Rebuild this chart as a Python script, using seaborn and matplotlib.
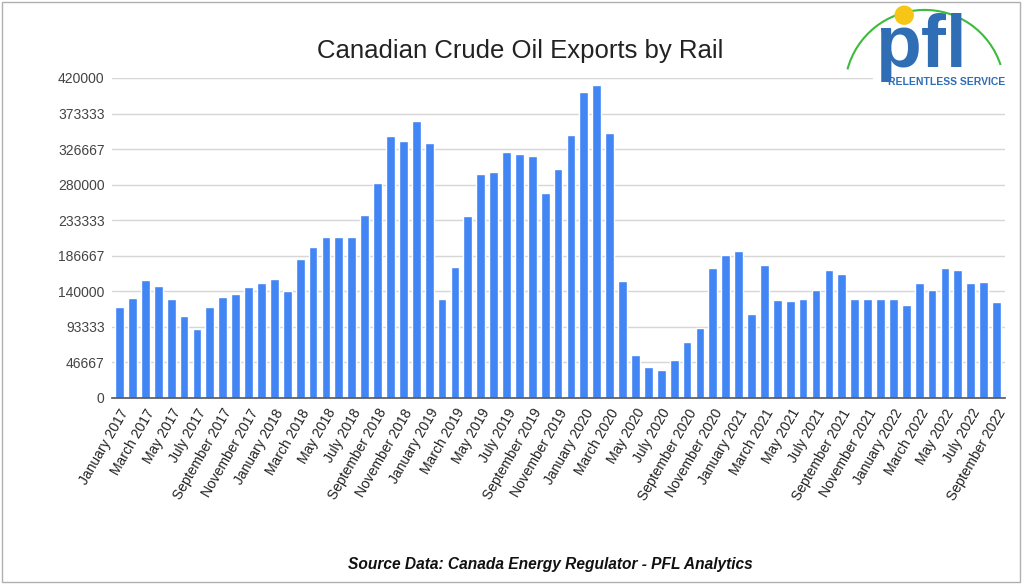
import numpy as np
import pandas as pd
import matplotlib.pyplot as plt
from matplotlib.patches import Rectangle, Ellipse, Arc
import seaborn as sns

# Données (barils par mois, approx.)
month_names = ['January', 'February', 'March', 'April', 'May', 'June', 'July',
               'August', 'September', 'October', 'November', 'December']
years = [2017, 2018, 2019, 2020, 2021, 2022]
exports = [
    119000, 130800, 154400, 147400, 129500, 107200, 90600, 119000, 132600, 136100, 145700, 150900,  # 2017
    155800, 140900, 182900, 197800, 211300, 211300, 211300, 240200, 282600, 344300, 336900, 363600,  # 2018
    335100, 130400, 172400, 238900, 294400, 296200, 322900, 319800, 318100, 269100, 301000, 344800,  # 2019
    402100, 410800, 348200, 154000, 56400, 41100, 37200, 49400, 73100, 91900, 171100, 188100,        # 2020
    192900, 110300, 174100, 129100, 127300, 130400, 142200, 167500, 162800, 130400, 130400, 130400,  # 2021
    130400, 122100, 150500, 142200, 171100, 167500, 150500, 152300, 125600,                          # 2022
]
month_labels = [f'{m} {y}' for y in years for m in month_names][:len(exports)]
y_ticks = np.linspace(0, 420000, 10)
y_tick_labels = [str(int(round(v))) for v in y_ticks]

df = pd.DataFrame({'month': month_labels, 'exports': exports})

sns.set_style('white')
plt.rcParams['font.family'] = ['Liberation Sans', 'DejaVu Sans']

fig = plt.figure(figsize=(10.24, 5.84), dpi=100)
ax = fig.add_axes([0.109, 0.3185, 0.872, 0.548])

sns.barplot(data=df, x='month', y='exports', color='#4285F4', saturation=1,
            width=0.68, ax=ax)

# Axes
ax.set_ylim(0, 420000)
ax.set_xlim(-0.62, len(exports) - 0.38)
ax.set_yticks(y_ticks)
ax.set_yticklabels(y_tick_labels, fontsize=10, color='#444444')
ax.set_xticks(range(0, len(exports), 2))
ax.set_xticklabels(month_labels[::2], rotation=60, ha='right',
                   rotation_mode='anchor', fontsize=10, color='#222222')
ax.tick_params(axis='y', length=0, pad=5)
ax.tick_params(axis='x', length=3, color='#666666', pad=3)
ax.set_xlabel('')
ax.set_ylabel('')
ax.yaxis.grid(True, color='#d6d6d6', linewidth=1)
ax.set_axisbelow(True)
for s in ['top', 'right', 'left']:
    ax.spines[s].set_visible(False)
ax.spines['bottom'].set_color('#555555')
ax.spines['bottom'].set_linewidth(1.2)

# Titre et source
fig.text(0.508, 0.9007, 'Canadian Crude Oil Exports by Rail', ha='center',
         va='baseline', fontsize=18.5, color='#222222')
fig.text(0.5376, 0.0257, 'Source Data: Canada Energy Regulator - PFL Analytics',
         ha='center', va='baseline', fontsize=11.2, fontweight='bold',
         fontstyle='italic', color='#111111')

# Logo (approximation) sur fond blanc
fig.patches.append(Rectangle((0.853, 0.845), 0.134, 0.035, transform=fig.transFigure,
                             facecolor='white', edgecolor='none', zorder=2))
fig.patches.append(Arc((0.903, 0.846), 0.156, 0.274, theta1=30, theta2=155,
                       transform=fig.transFigure, color='#3dbb3d', linewidth=1.5,
                       zorder=3))
fig.patches.append(Ellipse((0.883, 0.974), 0.0176, 0.0308, transform=fig.transFigure,
                           color='#f6c515', zorder=4))
fig.text(0.899, 0.885, 'pfl', ha='center', va='baseline', fontsize=54,
         fontweight='bold', color='#2f6db5', zorder=5)
fig.text(0.924, 0.859, 'RELENTLESS SERVICE', ha='center', va='center',
         fontsize=7.5, fontweight='bold', color='#2f6db5', zorder=5)

# Cadre gris
fig.patches.append(Rectangle((0.002, 0.003), 0.994, 0.994, transform=fig.transFigure,
                             fill=False, edgecolor='#b0b0b0', linewidth=1))

fig.savefig('out.png', dpi=100)
